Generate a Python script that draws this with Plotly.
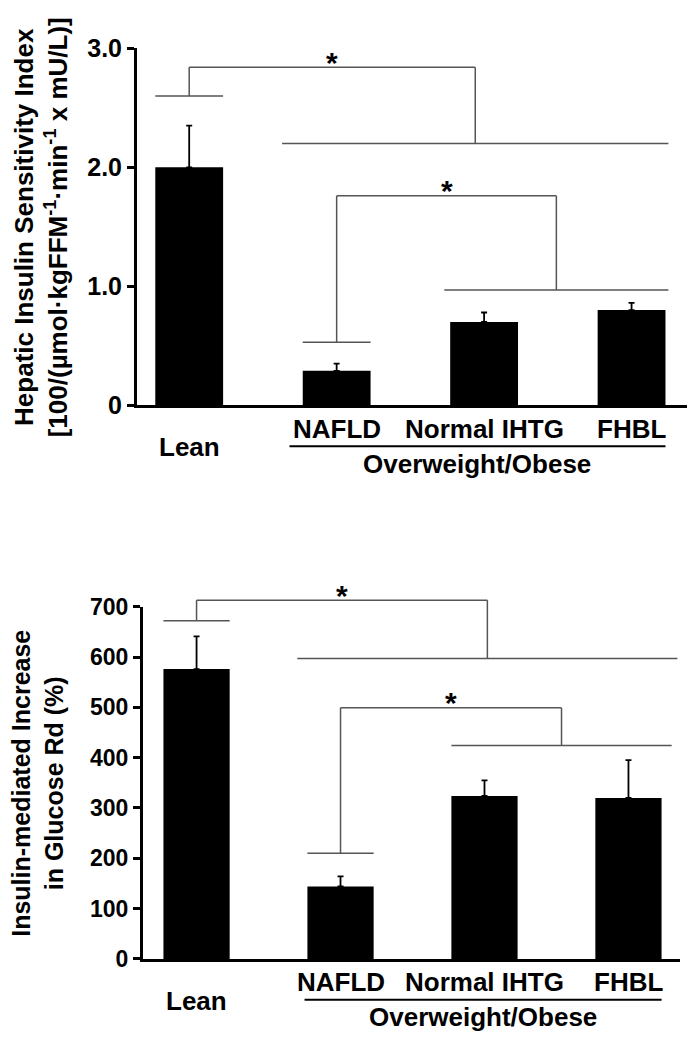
import plotly.graph_objects as go

# the page body adds an 8px margin, so the figure is 16px smaller than the window
OFF = 8
W, H = 695 - 2 * OFF, 1050 - 2 * OFF
FONT = 'Liberation Sans, Arial, sans-serif'

categories = ['Lean', 'NAFLD', 'Normal IHTG', 'FHBL']
group_label = 'Overweight/Obese'

# hepatic insulin sensitivity index, mean and SEM
hisi_mean = [2.00, 0.29, 0.70, 0.80]
hisi_sem = [0.35, 0.06, 0.08, 0.06]
hisi_ticks = [0, 1.0, 2.0, 3.0]
hisi_ticktext = ['0', '1.0', '2.0', '3.0']

# insulin-mediated increase in glucose Rd (%), mean and SEM
rd_mean = [576, 144, 324, 320]
rd_sem = [65, 20, 31, 75]
rd_ticks = [0, 100, 200, 300, 400, 500, 600, 700]

# significance bracket levels (data units):
# lean cap, lean-vs-obese top, obese group line, nafld cap, nafld-vs-rest top, rest group line
hisi_brackets = [2.60, 2.84, 2.20, 0.53, 1.76, 0.97]
rd_brackets = [672, 713, 597, 210, 499, 424]

# panel geometry in window pixels + category spans of the bracket group lines
panels = [
    dict(xa='x', ya='y', left=137, right=687, bottom=402, top=35,
         xr=[-0.354, 3.376], yr=[0, 3.0],
         mean=hisi_mean, sem=hisi_sem, tv=hisi_ticks, tt=hisi_ticktext,
         br=hisi_brackets, grp_a=(0.63, 3.25), grp_b=(1.73, 3.25),
         under=(0.68, 3.23), tick_size=25, title_size=26,
         title='Hepatic Insulin Sensitivity Index<br>'
               '[100/(µmol·kgFFM<sup>-1</sup>·min<sup>-1</sup> x mU/L)]',
         title_x=41, title_y=219),
    dict(xa='x2', ya='y2', left=143, right=680, bottom=971, top=609,
         xr=[-0.372, 3.358], yr=[0, 700],
         mean=rd_mean, sem=rd_sem, tv=rd_ticks, tt=[str(v) for v in rd_ticks],
         br=rd_brackets, grp_a=(0.70, 3.34), grp_b=(1.77, 3.30),
         under=(0.75, 3.23), tick_size=23, title_size=25,
         title='Insulin-mediated Increase<br>in Glucose Rd (%)',
         title_x=38, title_y=791),
]
HALF = 0.23  # half bar width in category units


def px_x(p, c):
    return p['left'] + (c - p['xr'][0]) / (p['xr'][1] - p['xr'][0]) * (p['right'] - p['left'])


def px_y(p, v):
    return p['bottom'] - (v - p['yr'][0]) / (p['yr'][1] - p['yr'][0]) * (p['bottom'] - p['top'])


def to_paper(x, y):
    return (x - OFF) / W, 1 - (y - OFF) / H


def seg(x0, y0, x1, y1, color='#555555', width=1.5):
    (a, b), (c, d) = to_paper(x0, y0), to_paper(x1, y1)
    return dict(type='line', xref='paper', yref='paper', x0=a, y0=b, x1=c, y1=d,
                line=dict(color=color, width=width))


def label(x, y, text, size, **kw):
    px, py = to_paper(x, y)
    return dict(xref='paper', yref='paper', x=px, y=py, text=text, showarrow=False,
                xanchor='center', yanchor='middle',
                font=dict(family=FONT, size=size, color='black', weight='bold'), **kw)


fig = go.Figure()
shapes = []
annotations = []

for p in panels:
    fig.add_trace(go.Bar(
        x=list(range(len(categories))), y=p['mean'],
        width=2 * HALF,
        marker=dict(color='black', line=dict(width=0)),
        error_y=dict(type='data', array=p['sem'], arrayminus=[0] * len(p['sem']),
                     symmetric=False, color='black', thickness=1.8, width=3),
        xaxis=p['xa'], yaxis=p['ya'], showlegend=False,
    ))

    b = p['br']
    # lean vs overweight/obese
    a0, a1 = p['grp_a']
    am = (a0 + a1) / 2
    shapes += [
        seg(px_x(p, -HALF), px_y(p, b[0]), px_x(p, HALF), px_y(p, b[0])),
        seg(px_x(p, 0), px_y(p, b[0]), px_x(p, 0), px_y(p, b[1])),
        seg(px_x(p, 0), px_y(p, b[1]), px_x(p, am), px_y(p, b[1])),
        seg(px_x(p, am), px_y(p, b[1]), px_x(p, am), px_y(p, b[2])),
        seg(px_x(p, a0), px_y(p, b[2]), px_x(p, a1), px_y(p, b[2])),
    ]
    # nafld vs normal IHTG + FHBL
    g0, g1 = p['grp_b']
    gm = (g0 + g1) / 2
    shapes += [
        seg(px_x(p, 1 - HALF), px_y(p, b[3]), px_x(p, 1 + HALF), px_y(p, b[3])),
        seg(px_x(p, 1), px_y(p, b[3]), px_x(p, 1), px_y(p, b[4])),
        seg(px_x(p, 1), px_y(p, b[4]), px_x(p, gm), px_y(p, b[4])),
        seg(px_x(p, gm), px_y(p, b[4]), px_x(p, gm), px_y(p, b[5])),
        seg(px_x(p, g0), px_y(p, b[5]), px_x(p, g1), px_y(p, b[5])),
    ]
    for cx, lvl in ((am / 2, b[1]), ((1 + gm) / 2, b[4])):
        annotations.append(label(px_x(p, cx), px_y(p, lvl) - 5, '*', 30))

    # category labels (Lean sits lower than the obese subgroups)
    for i, cat in enumerate(categories):
        off = 43 if i == 0 else 24
        annotations.append(label(px_x(p, i), p['bottom'] + off, cat, 26))
    u0, u1 = p['under']
    shapes.append(seg(px_x(p, u0), p['bottom'] + 42, px_x(p, u1), p['bottom'] + 42,
                      color='black', width=2))
    annotations.append(label(px_x(p, (u0 + u1) / 2), p['bottom'] + 60, group_label, 26))
    annotations.append(label(p['title_x'], p['title_y'], p['title'], p['title_size'],
                             textangle=-90))

axis_common = dict(showgrid=False, zeroline=False, showline=True,
                   linewidth=3, linecolor='black')

layout = dict(
    width=W, height=H,
    margin=dict(l=0, r=0, t=0, b=0),
    plot_bgcolor='white', paper_bgcolor='white',
    font=dict(family=FONT, color='black'),
    shapes=shapes, annotations=annotations,
    showlegend=False,
)
for k, p in enumerate(panels):
    sfx = '' if k == 0 else str(k + 1)
    xl, yb = to_paper(p['left'], p['bottom'])
    xr, yt = to_paper(p['right'], p['top'])
    layout['xaxis' + sfx] = dict(
        axis_common, domain=[xl, xr], range=p['xr'],
        anchor='y' + sfx, showticklabels=False, ticks='',
    )
    layout['yaxis' + sfx] = dict(
        axis_common, domain=[yb, yt], range=p['yr'],
        anchor='x' + sfx, tickvals=p['tv'], ticktext=p['tt'],
        ticks='outside', ticklen=7, tickwidth=3, tickcolor='black',
        tickfont=dict(family=FONT, size=p['tick_size'], color='black', weight='bold'),
    )

fig.update_layout(**layout)
fig.write_html('out.html')
